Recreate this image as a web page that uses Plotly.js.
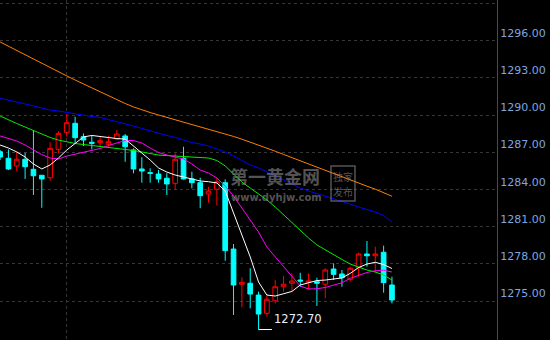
<!DOCTYPE html>
<html>
<head>
<meta charset="utf-8">
<script src="https://cdn.plot.ly/plotly-3.0.1.min.js"></script>
<style>
html,body{margin:0;padding:0;background:#000;}
#chart{width:550px;height:340px;}
</style>
</head>
<body>
<div id="chart"></div>
<script>
// OHLC per bar (bar index 0..47)
const openP = [1287.04,1286.51,1285.89,1286.43,1285.62,1285.14,1284.94,1287.23,1288.60,1289.33,
  1288.25,1287.80,1287.77,1287.64,1288.06,1288.31,1287.18,1285.65,1285.35,1285.24,
  1284.90,1284.49,1286.51,1284.85,1284.54,1283.63,1284.01,1284.54,1279.19,1276.35,
  1276.43,1275.48,1274.01,1275.02,1276.15,1276.43,1276.69,1276.51,1276.56,1276.35,
  1277.58,1277.18,1276.75,1277.69,1278.79,1278.65,1278.93,1276.29];
const highP = [1287.18,1287.23,1287.04,1286.96,1288.79,1285.16,1287.80,1288.71,1290.08,1289.86,
  1288.52,1288.31,1288.25,1288.31,1288.79,1288.47,1287.31,1286.59,1285.70,1285.56,
  1285.30,1286.91,1287.44,1285.43,1284.94,1284.22,1284.98,1284.81,1279.60,1276.91,
  1277.64,1275.75,1275.56,1276.69,1277.02,1277.23,1277.28,1277.23,1276.88,1277.64,
  1278.04,1277.50,1277.77,1278.90,1279.84,1279.38,1279.46,1276.96];
const lowP = [1286.37,1285.56,1285.48,1284.84,1283.55,1282.52,1284.70,1286.91,1288.25,1287.72,
  1287.50,1287.23,1287.44,1287.44,1287.98,1286.23,1285.30,1284.54,1284.54,1284.54,
  1283.55,1283.95,1284.80,1284.09,1282.48,1282.93,1282.69,1278.25,1273.87,1274.49,
  1274.41,1272.70,1273.73,1274.81,1275.75,1275.81,1276.15,1275.94,1274.60,1275.22,
  1276.69,1276.15,1276.56,1276.96,1277.77,1277.28,1275.67,1274.81];
const closeP = [1286.61,1285.65,1286.43,1285.83,1285.10,1284.84,1287.31,1288.52,1289.38,1288.17,
  1287.98,1287.72,1287.93,1287.85,1288.47,1287.44,1285.65,1285.48,1285.30,1284.84,
  1284.44,1286.43,1284.84,1284.54,1283.49,1283.87,1284.62,1279.06,1276.29,1276.51,
  1275.56,1273.95,1275.14,1276.15,1276.35,1276.61,1276.61,1276.61,1276.43,1277.50,
  1277.15,1276.88,1277.64,1278.79,1278.65,1278.79,1276.48,1275.08];

// Moving-average lines
const maWhite = [1287.58,1287.34,1287.02,1286.61,1286.05,1285.65,1285.97,1286.53,1287.18,1287.74,
  1288.23,1288.35,1288.27,1288.15,1288.10,1288.06,1287.50,1286.94,1286.37,1285.73,
  1285.40,1285.16,1285.00,1284.84,1284.68,1284.62,1284.52,1283.87,1282.10,1280.48,
  1278.55,1276.53,1275.48,1275.40,1275.56,1275.77,1276.29,1276.49,1276.65,1276.69,
  1276.77,1276.86,1277.23,1277.70,1277.98,1278.12,1277.94,1277.62];
const maMagenta = [1288.31,1288.10,1287.90,1287.58,1287.18,1286.81,1286.53,1286.45,1286.69,1286.83,
  1286.98,1287.14,1287.30,1287.54,1287.74,1287.94,1287.94,1287.74,1287.34,1286.98,
  1286.77,1286.64,1286.45,1286.05,1285.56,1285.32,1284.92,1284.27,1283.47,1282.50,
  1281.53,1280.56,1279.35,1278.55,1277.74,1276.94,1276.21,1275.97,1275.99,1276.09,
  1276.25,1276.47,1276.83,1277.06,1277.30,1277.44,1277.48,1277.34];
const maGreen = [1289.92,1289.60,1289.31,1289.03,1288.75,1288.47,1288.19,1287.98,1287.82,1287.70,
  1287.62,1287.54,1287.48,1287.42,1287.34,1287.26,1287.14,1287.02,1286.90,1286.77,
  1286.73,1286.69,1286.65,1286.61,1286.57,1286.53,1286.33,1285.89,1285.24,1284.60,
  1284.11,1283.63,1283.15,1282.58,1281.94,1281.29,1280.73,1280.08,1279.52,1279.11,
  1278.71,1278.35,1277.98,1277.74,1277.50,1277.34,1277.10,1276.69];
const maBlue = [1291.35,1291.21,1291.05,1290.89,1290.73,1290.56,1290.40,1290.32,1290.20,1290.08,
  1289.96,1289.88,1289.80,1289.64,1289.48,1289.27,1289.11,1288.91,1288.71,1288.51,
  1288.35,1288.19,1287.98,1287.78,1287.66,1287.50,1287.26,1287.02,1286.69,1286.33,
  1285.97,1285.73,1285.40,1285.08,1284.76,1284.44,1284.11,1283.87,1283.67,1283.47,
  1283.27,1283.06,1282.82,1282.58,1282.38,1282.18,1281.90,1281.37];
const maOrange = [1295.89,1295.54,1295.20,1294.84,1294.52,1294.15,1293.83,1293.49,1293.15,1292.82,
  1292.50,1292.18,1291.86,1291.53,1291.21,1290.93,1290.65,1290.40,1290.20,1290.00,
  1289.81,1289.64,1289.46,1289.27,1289.08,1288.88,1288.68,1288.48,1288.27,1288.05,
  1287.82,1287.58,1287.33,1287.08,1286.82,1286.56,1286.29,1286.03,1285.76,1285.50,
  1285.24,1284.99,1284.74,1284.50,1284.26,1284.02,1283.76,1283.45];

const yTicks = [1275,1278,1281,1284,1287,1290,1293,1296,1299];
const dayBreak = [8];

const idx = openP.map((_, i) => i);

function maTrace(y, color) {
  return {type:'scatter', mode:'lines', x:idx, y:y, line:{color:color, width:1}, hoverinfo:'skip', showlegend:false};
}

const traces = [
  maTrace(maOrange, '#ff8000'),
  maTrace(maBlue, '#0000ff'),
  maTrace(maGreen, '#00ee00'),
  maTrace(maMagenta, '#ff00ff'),
  maTrace(maWhite, '#ffffff'),
  {
    type:'candlestick', x:idx, open:openP, high:highP, low:lowP, close:closeP,
    increasing:{line:{color:'#ff0000', width:1}, fillcolor:'#000000'},
    decreasing:{line:{color:'#00ffff', width:1}, fillcolor:'#00ffff'},
    whiskerwidth:0, hoverinfo:'skip', showlegend:false
  }
];

// lowest low marker
let k = 0;
lowP.forEach((v, i) => { if (v < lowP[k]) k = i; });
const minLow = lowP[k];

const wmColor = 'rgba(140,140,140,0.6)';
const W = 497, H = 340;

const layout = {
  width:550, height:340,
  margin:{l:0, r:53, t:0, b:0, pad:0},
  paper_bgcolor:'#000000', plot_bgcolor:'#000000',
  showlegend:false,
  boxgap:0.2,
  xaxis:{
    type:'linear', range:[-0.012, 59.6], fixedrange:true,
    rangeslider:{visible:false},
    tickmode:'array', tickvals:dayBreak, showticklabels:false, ticks:'',
    showgrid:true, gridcolor:'#363636', griddash:'dot', gridwidth:1,
    zeroline:false, showline:false
  },
  yaxis:{
    side:'right', range:[1271.855, 1299.274], fixedrange:true,
    tickmode:'array', tickvals:yTicks, tickformat:'.2f',
    ticklabelposition:'outside top', ticks:'', ticklabelstandoff:0,
    showgrid:true, gridcolor:'#363636', griddash:'dot', gridwidth:1,
    zeroline:false, showline:true, linecolor:'#4a4a4a', linewidth:1,
    tickfont:{family:'DejaVu Sans', size:11, color:'#7ea6e0'}
  },
  shapes:[
    {type:'line', xref:'x', yref:'y', x0:k, x1:k+1.6, y0:minLow, y1:minLow,
     line:{color:'#ffffff', width:1}},
    {type:'rect', xref:'paper', yref:'paper', x0:331/W, x1:355/W, y0:1-201/H, y1:1-166/H,
     line:{color:wmColor, width:1.5}, fillcolor:'rgba(0,0,0,0)'}
  ],
  annotations:[
    {xref:'x', yref:'y', x:k+1.6, y:minLow, xanchor:'left', yanchor:'bottom', yshift:2,
     text:minLow.toFixed(2), showarrow:false,
     font:{family:'DejaVu Sans', size:11.5, color:'#e8eeff'}},
    {xref:'paper', yref:'paper', x:275/W, y:1-176/H, xanchor:'center', yanchor:'middle',
     text:'<b>第一黄金网</b>', showarrow:false, borderpad:0,
     font:{family:'Noto Sans CJK SC', size:18, color:wmColor}},
    {xref:'paper', yref:'paper', x:276/W, y:1-197/H, xanchor:'center', yanchor:'middle',
     text:'<b>www.dyhjw.com</b>', showarrow:false, borderpad:0,
     font:{family:'DejaVu Sans', size:10, color:wmColor}},
    {xref:'paper', yref:'paper', x:343/W, y:1-176/H, xanchor:'center', yanchor:'middle',
     text:'独家', showarrow:false, borderpad:0,
     font:{family:'Noto Sans CJK SC', size:10, color:wmColor}},
    {xref:'paper', yref:'paper', x:343/W, y:1-191/H, xanchor:'center', yanchor:'middle',
     text:'发布', showarrow:false, borderpad:0,
     font:{family:'Noto Sans CJK SC', size:10, color:wmColor}}
  ]
};

Plotly.newPlot('chart', traces, layout, {staticPlot:true, displayModeBar:false});
</script>
</body>
</html>
